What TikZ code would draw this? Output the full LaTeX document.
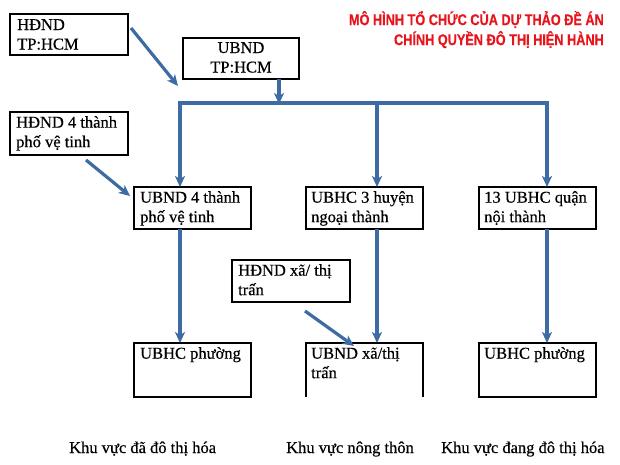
\documentclass[tikz,border=0pt]{standalone}
\usepackage{fontspec}
\setmainfont{Liberation Serif}[FakeBold=0.5]
\newfontfamily\titlefont{Liberation Sans}[FakeBold=0.6]
\usetikzlibrary{arrows.meta}
\definecolor{arrblue}{HTML}{3D6BA3}
\definecolor{titlered}{HTML}{E8141C}
\tikzset{
  box/.style={draw=black, line width=1.8pt, rectangle, inner sep=0pt, outer sep=0pt, anchor=north west},
  boxtext/.style={font=\fontsize{16.5}{19.5}\selectfont, align=left, anchor=north west, inner sep=0pt},
  conn/.style={draw=arrblue, line width=3.2pt, -{Stealth[length=11pt,width=10pt,inset=3pt]}},
  bar/.style={draw=arrblue, line width=3.2pt},
  legend/.style={font=\fontsize{16.5}{18}\selectfont, anchor=base west, inner sep=0pt}
}
\begin{document}
\begin{tikzpicture}[x=1pt,y=-1pt]
\useasboundingbox (0,0) rectangle (620,465);
\fill[white] (0,0) rectangle (620,465);
% title
\node[font=\titlefont\bfseries\fontsize{15.5}{20}\selectfont, text=titlered, align=right, anchor=north east, inner sep=0pt] (title) at (604,11)
 {\scalebox{0.82}[1]{MÔ HÌNH TỔ CHỨC CỦA DỰ THẢO ĐỀ ÁN}\\\scalebox{0.82}[1]{CHÍNH QUYỀN ĐÔ THỊ HIỆN HÀNH}};
% boxes
\node[box, minimum width=118pt, minimum height=41pt] (hdndhcm) at (10,14) {};
\node[boxtext] (thdndhcm) at (17,19) {HĐND\\TP:HCM};
\node[box, minimum width=116pt, minimum height=41pt] (ubndhcm) at (183,38) {};
\node[boxtext, align=center, anchor=north] (tubndhcm) at (241,42) {UBND\\TP:HCM};
\node[box, minimum width=118pt, minimum height=43pt] (hdnd4) at (10,112) {};
\node[boxtext] (thdnd4) at (16,116) {HĐND 4 thành\\phố vệ tinh};
\node[box, minimum width=117pt, minimum height=42pt] (ubnd4) at (134,187) {};
\node[boxtext] (tubnd4) at (140,191) {UBND 4 thành\\phố vệ tinh};
\node[box, minimum width=117pt, minimum height=42pt] (ubhc3) at (306,187) {};
\node[boxtext] (tubhc3) at (311,191) {UBHC 3 huyện\\ngoại thành};
\node[box, minimum width=117pt, minimum height=42pt] (ubhc13) at (479,187) {};
\node[boxtext] (tubhc13) at (484,191) {13 UBHC quận\\nội thành};
\node[box, minimum width=118pt, minimum height=42pt] (hdndxa) at (232,260) {};
\node[boxtext] (thdndxa) at (238,264) {HĐND xã/ thị\\trấn};
\node[box, minimum width=117pt, minimum height=54pt] (ubhcp1) at (134,343) {};
\node[boxtext] (tubhcp1) at (140,347) {UBHC phường};
\node[box, draw=none, minimum width=117pt, minimum height=54pt] (ubndxa) at (306,343) {};
\draw[line width=1.8pt] (ubndxa.south west) -- (ubndxa.north west) -- (ubndxa.north east) -- (ubndxa.south east);
\node[boxtext] (tubndxa) at (311,347) {UBND xã/thị\\trấn};
\node[box, minimum width=117pt, minimum height=54pt] (ubhcp2) at (479,343) {};
\node[boxtext] (tubhcp2) at (484,347) {UBHC phường};
% connectors
\coordinate (hcmstart) at (131,28);
\coordinate (hcmtip) at (178,86);
\draw[conn] (hcmstart) -- (hcmtip);
\coordinate (barmid) at (279,103);
\draw[conn] (ubndhcm.south -| barmid) -- ([yshift=-1pt]barmid);
\coordinate (barL) at (180,103);
\coordinate (barM) at (377,103);
\coordinate (barR) at (547,103);
\draw[bar, line cap=butt] ([yshift=-1.6pt]barL) -- (barL) -- (barR) -- ([yshift=-1.6pt]barR);
\draw[conn] (barL) -- (barL |- ubnd4.north);
\draw[conn] (barM) -- (barM |- ubhc3.north);
\draw[conn] (barR) -- (barR |- ubhc13.north);
\coordinate (h4start) at (86,160);
\coordinate (h4tip) at (130,196);
\draw[conn] (h4start) -- (h4tip);
\draw[conn] (ubnd4.south -| barL) -- (barL |- ubhcp1.north);
\draw[conn] (ubhc3.south -| barM) -- (barM |- ubndxa.north);
\draw[conn] (ubhc13.south -| barR) -- (barR |- ubhcp2.north);
\coordinate (hxstart) at (305,311);
\coordinate (hxtip) at (354,346);
\draw[conn] (hxstart) -- (hxtip);
% legend
\node[legend] (leg1) at (69,453) {Khu vực đã đô thị hóa};
\node[legend] (leg2) at (286,453) {Khu vực nông thôn};
\node[legend] (leg3) at (441,453) {Khu vực đang đô thị hóa};
\end{tikzpicture}
\end{document}
